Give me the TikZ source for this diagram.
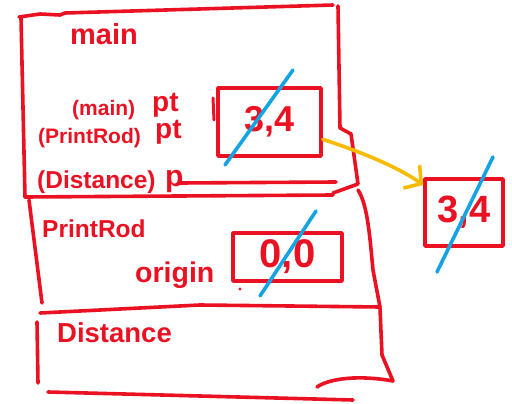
\documentclass[tikz,border=0pt]{standalone}
\usepackage{fontspec}
\setmainfont{Liberation Sans}
\usetikzlibrary{arrows.meta}
\definecolor{inkred}{RGB}{234,18,34}
\definecolor{inkblue}{RGB}{22,163,226}
\definecolor{inkorange}{RGB}{250,186,0}
\begin{document}
\begin{tikzpicture}[x=1pt,y=-1pt,line cap=round,line join=round,
  frame/.style={draw=inkred,line width=3.6pt},
  cellbox/.style={draw=inkred,line width=3.6pt,inner sep=0pt,text=inkred},
  lbl/.style={text=inkred,inner sep=0pt,anchor=base west},
  cross/.style={draw=inkblue,line width=3.6pt},
  ptr/.style={draw=inkorange,line width=3.6pt,-{Straight Barb[length=12pt,width=28pt,line width=3.6pt]}}]
\useasboundingbox (0,0) rectangle (512,404);

% main frame
\draw[frame] (19,17) -- (40,14) -- (60,15) -- (65,13) -- (333,5);
\draw[frame] (21,18) -- (25,197);
\draw[frame] (338,6) -- (340,128) -- (351,134) -- (358,184) -- (333,193);
\draw[frame] (180,183) -- (336,182);
\draw[frame] (25,197) -- (333,195);

% PrintRod frame
\draw[frame] (29,200) -- (42,303);
\draw[frame] (358,190) .. controls (368,205) and (370,240) .. (373,270) -- (380,307);
\draw[frame] (40,313) -- (200,305) -- (380,307);

% Distance frame
\draw[frame] (37,322) -- (38,383);
\draw[frame] (380,308) -- (382,355) -- (393,381) .. controls (360,375) and (330,378) .. (317,387);
\draw[frame] (48,392) -- (200,396) -- (353,400);

% labels
\node[lbl,font=\bfseries\fontsize{29}{29}\selectfont] (mainlbl) at (70,45) {main};
\node[lbl,font=\bfseries\fontsize{21}{21}\selectfont] (mainpt) at (72,115) {(main)};
\node[lbl,font=\bfseries\fontsize{28}{28}\selectfont] (pta) at (152,111) {pt};
\node[lbl,font=\bfseries\fontsize{21}{21}\selectfont] (printpt) at (38,143) {(PrintRod)};
\node[lbl,font=\bfseries\fontsize{28}{28}\selectfont] (ptb) at (155,139) {pt};
\node[lbl,font=\bfseries\fontsize{24.5}{24.5}\selectfont] (distp) at (37,188) {(Distance)};
\node[lbl,font=\bfseries\fontsize{30}{30}\selectfont] (pc) at (165,186) {p};
\node[lbl,font=\bfseries\fontsize{24.5}{24.5}\selectfont] (printlbl) at (42,237) {PrintRod};
\node[lbl,font=\bfseries\fontsize{28.5}{28.5}\selectfont] (originlbl) at (135,282) {origin};
\node[lbl,font=\bfseries\fontsize{27.5}{27.5}\selectfont] (distlbl) at (57,342) {Distance};

% value boxes
\node[cellbox,minimum width=103pt,minimum height=68pt,font=\bfseries\fontsize{36}{36}\selectfont] (box34) at (269.5,122) {3,4};
\draw[frame,line width=3pt] (213,98) -- (214,120);
\node[cellbox,minimum width=78pt,minimum height=67pt,font=\bfseries\fontsize{38}{38}\selectfont] (rbox) at (464,212.5) {3,4};
\node[cellbox,minimum width=109pt,minimum height=48pt,font=\bfseries\fontsize{40}{40}\selectfont] (obox) at (287.5,257) {0,0};
\fill[inkred] (240,289) circle (1.6);

% crossings
\draw[cross] (293,70) -- (225,165);
\draw[cross] (493,157) -- (437,272);
\draw[cross] (316,211) -- (260,296);

% pointer
\draw[ptr] (box34.-18) .. controls (355,150) and (395,165) .. (rbox.146);
\end{tikzpicture}
\end{document}
